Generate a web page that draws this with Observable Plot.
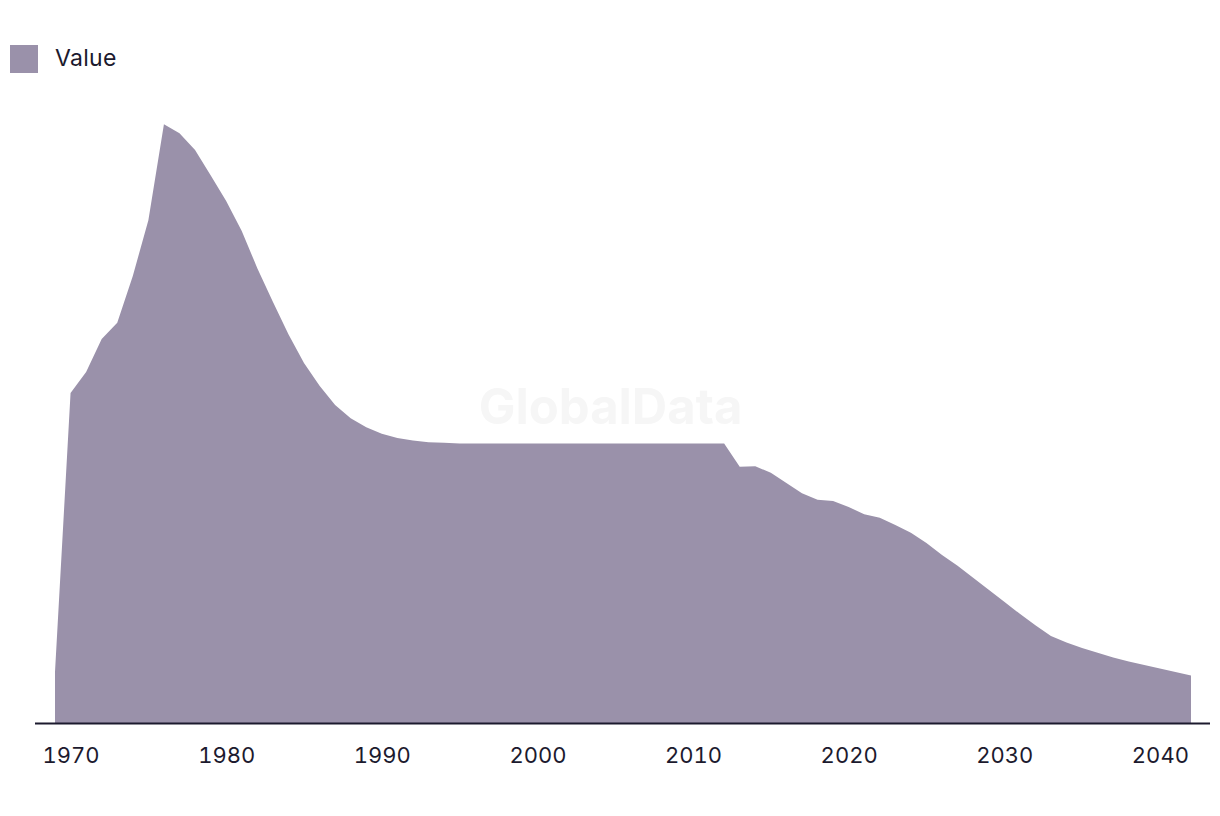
<!DOCTYPE html>
<html>
<head>
<meta charset="utf-8">
<script src="https://cdn.jsdelivr.net/npm/d3@7"></script>
<script src="https://cdn.jsdelivr.net/npm/@observablehq/plot@0.6"></script>
<style>
  html, body { margin: 0; padding: 0; background: #ffffff; }
  body { width: 1220px; height: 816px; overflow: hidden; font-family: Inter, "Liberation Sans", sans-serif; }
  #legend { position: relative; height: 90px; }
  #legend .sw { position: absolute; left: 10px; top: 45px; width: 28px; height: 28px; background: #9a91aa; }
  #legend .lb { position: absolute; left: 55px; top: 44px; font-size: 23px; letter-spacing: 0.3px; line-height: 28px; color: #1c1a2e; }
  #chart svg { display: block; }
</style>
</head>
<body>
<div id="legend"><div class="sw"></div><div class="lb">Value</div></div>
<div id="chart"></div>
<script>
const years = [1969,1970,1971,1972,1973,1974,1975,1976,1977,1978,1979,1980,1981,1982,1983,1984,1985,1986,1987,1988,1989,1990,1991,1992,1993,1994,1995,1996,1997,1998,1999,2000,2001,2002,2003,2004,2005,2006,2007,2008,2009,2010,2011,2012,2013,2014,2015,2016,2017,2018,2019,2020,2021,2022,2023,2024,2025,2026,2027,2028,2029,2030,2031,2032,2033,2034,2035,2036,2037,2038,2039,2040,2041,2042];
const values = [8.5,55.0,58.5,64.0,66.7,74.5,83.8,99.8,98.3,95.5,91.3,87.0,82.0,75.8,70.2,64.8,60.0,56.2,53.0,50.8,49.3,48.2,47.5,47.1,46.8,46.7,46.6,46.6,46.6,46.6,46.6,46.6,46.6,46.6,46.6,46.6,46.6,46.6,46.6,46.6,46.6,46.6,46.6,46.6,42.7,42.8,41.7,40.0,38.3,37.2,37.0,36.0,34.8,34.2,33.0,31.7,30.0,28.0,26.2,24.2,22.2,20.2,18.2,16.3,14.5,13.4,12.5,11.7,10.9,10.25,9.65,9.1,8.5,7.9];
const tickYears = [1970,1980,1990,2000,2010,2020,2030,2040];
const seriesName = "Value";
const watermark = "GlobalData";

const data = years.map((year, i) => ({year, value: values[i], series: seriesName}));

const chart = Plot.plot({
  width: 1220,
  height: 726,
  marginLeft: 55,
  marginRight: 29,
  marginTop: 33,
  marginBottom: 93,
  style: {fontFamily: "Inter, 'Liberation Sans', sans-serif", fontSize: "22px", color: "#1c1a2e", background: "#ffffff"},
  x: {domain: [1969, 2042]},
  y: {domain: [0, 100], axis: null},
  marks: [
    Plot.text([watermark], {frameAnchor: "middle", dx: -13, dy: -15, text: d => d, fontSize: 49, fontWeight: "bold", fill: "#f6f6f6"}),
    Plot.areaY(data, {x: "year", y: "value", fill: "#9a91aa"}),
    Plot.ruleY([0], {stroke: "#1c1a2e", strokeWidth: 2, insetLeft: -20, insetRight: -19}),
    Plot.axisX({ticks: tickYears, tickFormat: d => String(d), tickSize: 0, tickPadding: 24, fontSize: 22, fill: "#1c1a2e", label: null})
  ]
});
document.getElementById("chart").appendChild(chart);
</script>
</body>
</html>
